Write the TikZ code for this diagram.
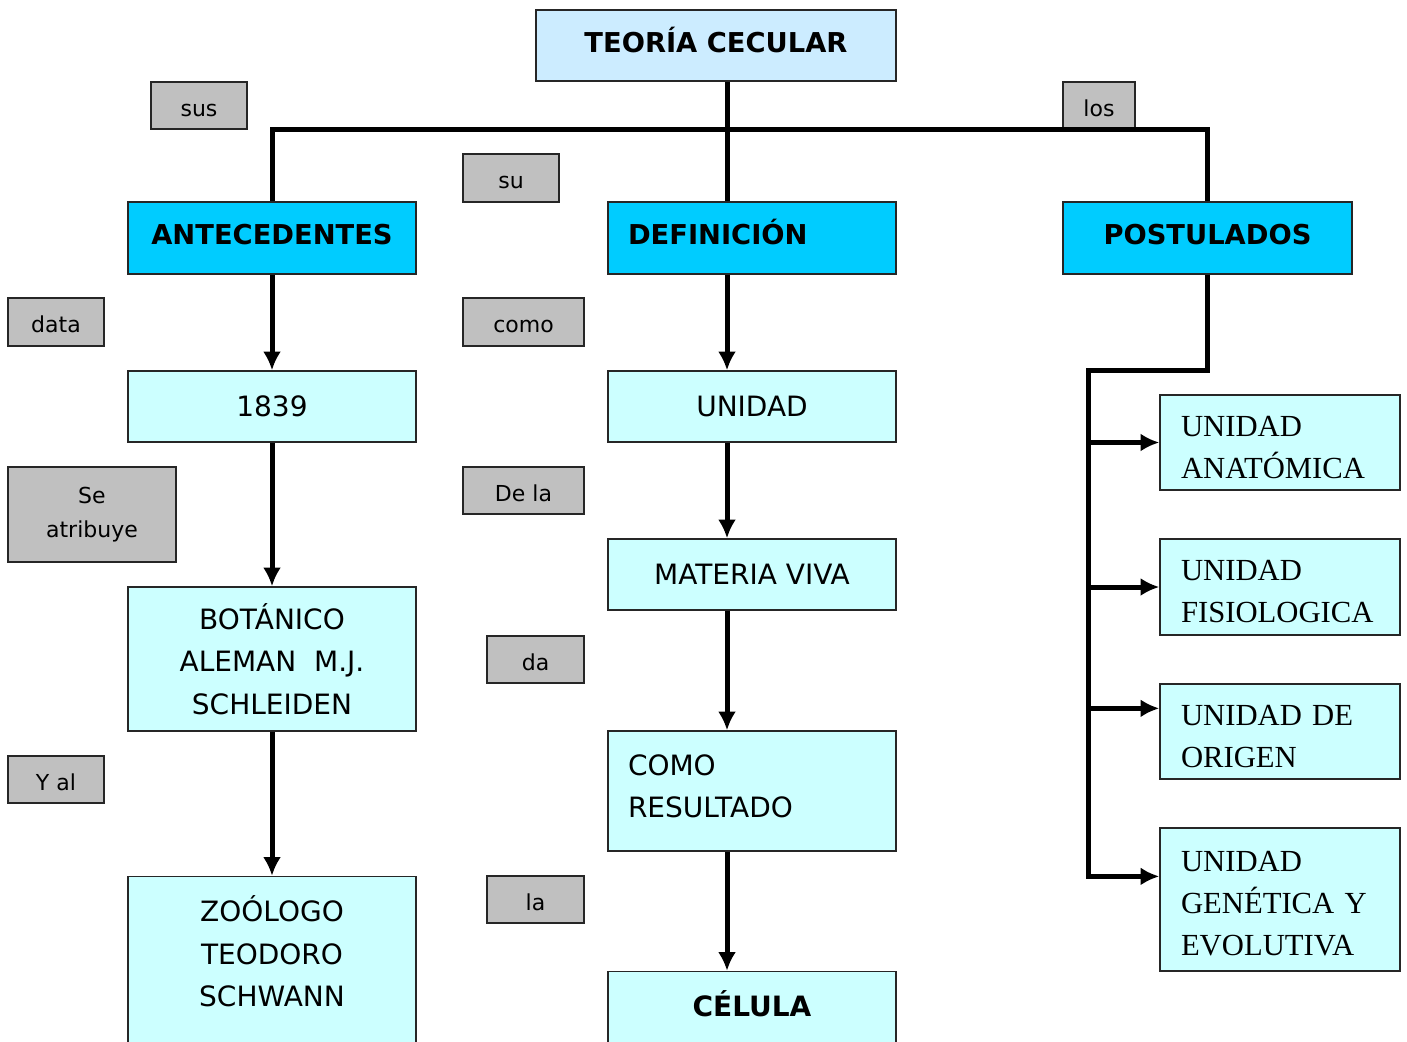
\documentclass[tikz,border=0pt]{standalone}
\usepackage{fontspec}
\usepackage{tikz}
\usetikzlibrary{calc}
\usetikzlibrary{positioning}
\usetikzlibrary{arrows.meta}
\newfontfamily\comic{DejaVu Sans}
\newfontfamily\romana{Liberation Serif}
\definecolor{celeste}{RGB}{204,236,255}
\definecolor{cian}{RGB}{0,204,255}
\definecolor{agua}{RGB}{204,255,255}
\definecolor{gris}{RGB}{192,192,192}
\newcommand{\arriba}{\rule{0pt}{22pt}}
\newcommand{\abajo}{\rule[-7.5pt]{0pt}{0pt}}

\begin{document}
\begin{tikzpicture}[x=0.75pt, y=-0.75pt, >=Latex,
  caja/.style={draw=black!85, line width=1.1pt, rectangle, inner sep=0pt, align=center},
  titulo/.style={caja, fill=celeste, minimum width=270pt, minimum height=53.25pt,
    text height=14pt, text depth=4pt,
    font=\comic\bfseries\fontsize{20.5}{24}\selectfont},
  cabeza/.style={caja, fill=cian, minimum width=216pt, minimum height=54pt,
    text height=14pt, text depth=4pt,
    font=\comic\bfseries\fontsize{20.5}{24}\selectfont},
  hoja/.style={caja, fill=agua, minimum width=216pt, minimum height=53.25pt,
    font=\comic\fontsize{21}{32}\selectfont},
  etiq/.style={caja, fill=gris, minimum width=72pt, minimum height=35.25pt,
    font=\comic\fontsize{16.5}{26}\selectfont},
  etiq1/.style={etiq, text height=16pt, text depth=0pt},
  unid/.style={caja, fill=agua, minimum width=180pt, minimum height=71.25pt,
    text width=148.5pt, align=left, font=\romana\fontsize{23}{31.5}\selectfont},
  linea/.style={line width=3.75pt, line join=miter},
  flecha/.style={linea, -{Latex[length=14pt,width=13.5pt]}}]

\useasboundingbox (0,0) rectangle (1407,1042);

% titulo y ramas
\node [titulo] (teoria) at (716,45.5) {TEORÍA CECULAR};
\node [cabeza] (ante) at (272,238) {ANTECEDENTES};
\node [cabeza, text width=186pt, align=left] (defn) at (752,238) {DEFINICIÓN};
\node [cabeza, minimum width=216.75pt] (post) at (1207.5,238) {POSTULADOS};

% conectores grises
\node [etiq1] (sus) at (199,105.5) {sus};
\node [etiq1, minimum width=54pt] (los) at (1099,105.5) {los};
\node [etiq1, minimum height=36pt] (su) at (511,178) {su};
\node [etiq1, minimum height=36pt] (data) at (56,322) {data};
\node [etiq1, minimum width=90.75pt, minimum height=36pt] (como) at (523.5,322) {como};
\node [etiq, minimum width=126pt, minimum height=71.25pt] (seatr) at (92,514.5) {Se\\atribuye};
\node [etiq1, minimum width=90.75pt] (dela) at (523.5,490.5) {De la};
\node [etiq1, minimum width=72.75pt] (da) at (535.5,659.5) {da};
\node [etiq1] (yal) at (56,779.5) {Y al};
\node [etiq1, minimum width=72.75pt] (la) at (535.5,899.5) {la};

% columna izquierda
\node [hoja] (n1839) at (272,406.5) {1839};
\node [hoja, minimum height=108pt] (botan) at (272,659) {BOTÁNICO\\ALEMAN~~M.J.\\SCHLEIDEN};
\node [hoja, minimum height=144pt] (zool) at (272,972.5) {ZOÓLOGO\\TEODORO\\SCHWANN\\\mbox{}};

% columna central
\coordinate (espina) at (727,0);
\node [hoja] (unidad) at (752,406.5) {UNIDAD};
\node [hoja] (materia) at (752,574.5) {MATERIA VIVA};
\node [hoja, minimum height=90pt, text width=186pt, align=left,
  font=\comic\fontsize{21}{31}\selectfont] (resul) at (752,791) {COMO\\RESULTADO\abajo};
\node [hoja, minimum height=79.5pt] (celula) at (752,1024.5) {\textbf{CÉLULA}\\\mbox{}};

% postulados
\node [unid] (anat) at (1280,442.5) {\arriba UNIDAD\\ANATÓMICA};
\node [unid, minimum height=72pt] (fisio) at (1280,587) {\arriba UNIDAD\\FISIOLOGICA};
\node [unid] (orig) at (1280,731.5) {\arriba UNIDAD DE\\ORIGEN};
\node [unid, minimum height=107.25pt] (gene) at (1280,899.5) {\arriba UNIDAD\\GENÉTICA Y\\EVOLUTIVA};

% lineas principales
\coordinate (bus) at (727,129);
\draw [linea] (ante.north) |- (bus) -| (post.north);
\draw [linea] (teoria.south -| espina) -- (defn.north -| espina);

\draw [flecha] (ante) -- (n1839);
\draw [flecha] (n1839) -- (botan);
\draw [flecha] (botan) -- (zool);

\draw [flecha] (defn.south -| espina) -- (unidad.north -| espina);
\draw [flecha] (unidad.south -| espina) -- (materia.north -| espina);
\draw [flecha] (materia.south -| espina) -- (resul.north -| espina);
\draw [flecha] (resul.south -| espina) -- (celula.north -| espina);

% rama derecha
\coordinate (codo) at (1088,370);
\coordinate (pori) at ($(orig.north west)!0.26!(orig.south west)$);
\coordinate (pgen) at ($(gene.north west)!0.34!(gene.south west)$);
\draw [flecha] (post.south) |- (codo) |- (pgen);
\draw [flecha] (anat.west -| codo) -- (anat.west);
\draw [flecha] (fisio.west -| codo) -- (fisio.west);
\draw [flecha] (pori -| codo) -- (pori);

\end{tikzpicture}
\end{document}
